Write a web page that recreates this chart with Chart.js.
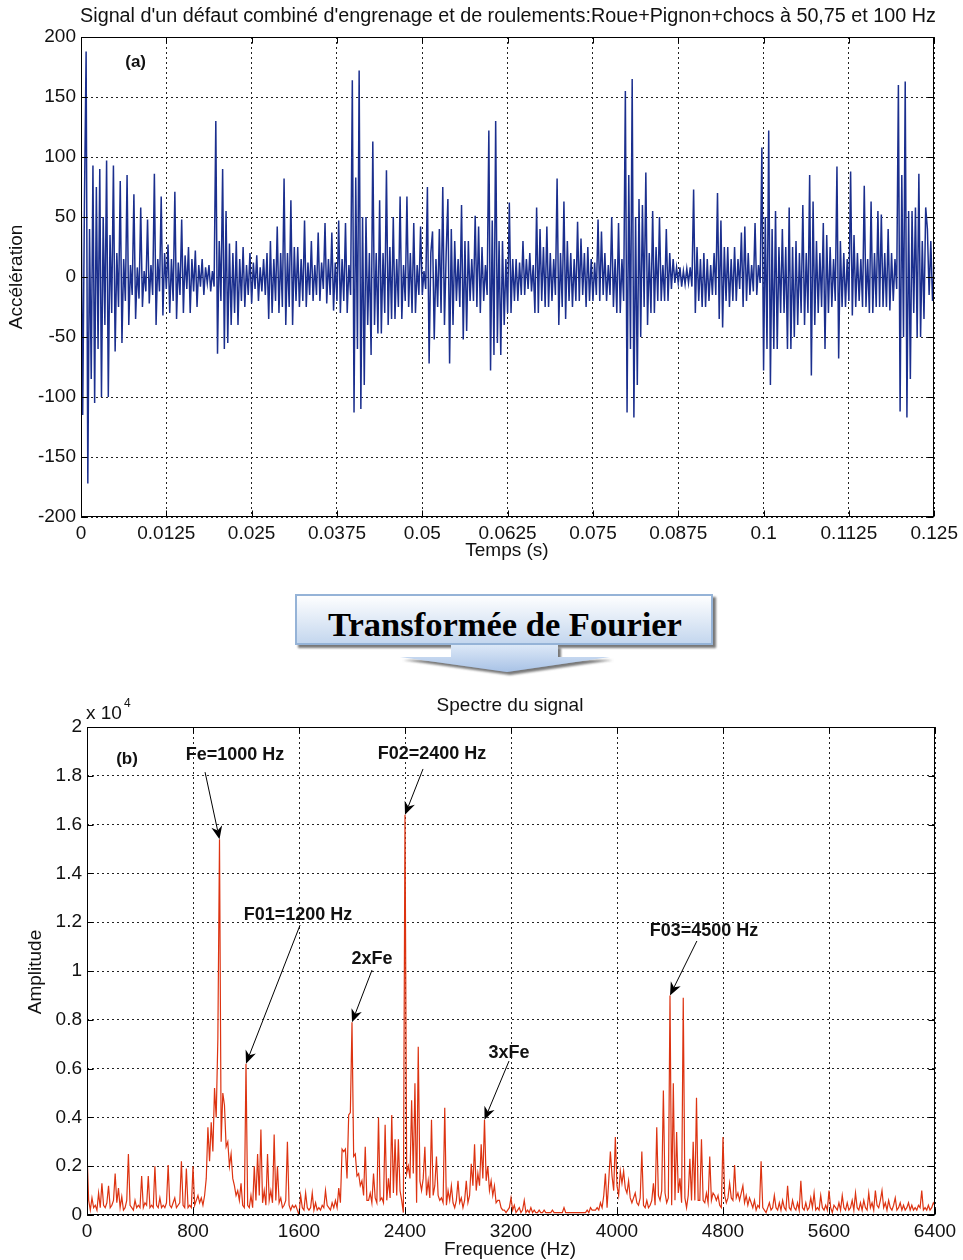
<!DOCTYPE html>
<html>
<head>
<meta charset="utf-8">
<script src="https://cdn.jsdelivr.net/npm/chart.js@4.4.1/dist/chart.umd.min.js"></script>
<style>
  html, body { margin: 0; padding: 0; background: #fff; }
  body { width: 963px; height: 1260px; position: relative; overflow: hidden; }
  #sig { position: absolute; left: 0; top: 0; }
  #banner { position: absolute; left: 0; top: 580px; }
  #spec { position: absolute; left: 0; top: 690px; }
</style>
</head>
<body>
<canvas id="sig" width="963" height="575"></canvas>

<svg id="banner" width="963" height="100" viewBox="0 0 963 100">
  <defs>
    <linearGradient id="boxFill" x1="0" y1="0" x2="0" y2="1">
      <stop offset="0" stop-color="#ffffff"/>
      <stop offset="1" stop-color="#c3d6ee"/>
    </linearGradient>
    <linearGradient id="arrowFill" x1="0" y1="0" x2="0" y2="1">
      <stop offset="0" stop-color="#dce8f7"/>
      <stop offset="1" stop-color="#a8c2e6"/>
    </linearGradient>
    <filter id="shade" x="-5%" y="-20%" width="115%" height="170%">
      <feDropShadow dx="3" dy="3" stdDeviation="1.2" flood-color="#6a6a6a" flood-opacity="0.9"/>
    </filter>
  </defs>
  <rect x="296" y="15" width="416" height="49" fill="url(#boxFill)" stroke="#95b3d7" stroke-width="2" filter="url(#shade)"/>
  <polygon points="451,65 558,65 558,77 610,77 507,92 400,77 451,77" fill="url(#arrowFill)" filter="url(#shade)"/>
  <text x="505" y="56" text-anchor="middle" font-family="'Liberation Serif', 'Times New Roman', serif" font-weight="bold" font-size="34.5" fill="#000">Transformée de Fourier</text>
</svg>

<canvas id="spec" width="963" height="570"></canvas>

<script>
// ---- Time signal: acceleration sampled every 0.25 ms over 0.125 s ----
const sampleStep = 0.00025;
const accel = [
  90,-115,60,188,   -172,40,-85,93,   -105,75,-60,90,   -100,50,-40,97,   -100,35,-30,93,
  -62,20,-25,80,    -55,15,-20,85,    -40,10,-15,69,    -35,8,-18,58,     -25,5,-12,48,
  -22,10,-15,86,    -40,15,-12,67,    -32,20,-10,27,    -30,15,-20,71,    -35,12,-15,48,
  -30,18,-10,25,    -30,15,-12,22,    -25,10,-8,15,     -15,8,-5,10,      -12,5,-8,130,
  -64,30,-20,90,    -60,55,-55,28,    -40,20,-30,30,    -40,15,-20,25,    -25,10,-15,20,
  -22,12,-10,18,    -20,8,-12,15,     -15,20,-35,30,    -30,15,-20,42,    -30,20,-25,82,
  -40,20,-25,64,    -40,25,-20,25,    -25,15,-20,47,    -25,12,-15,30,    -20,10,-15,37,
  -20,12,-10,45,    -22,15,-15,37,    -28,12,-20,47,    -30,15,-20,45,    -30,10,-15,164,
  -113,83,-60,172,  -110,50,-90,50,   -40,20,-65,113,   -40,20,-47,64,    -47,20,-30,89,
  -40,25,-35,50,    -35,15,-25,67,    -35,10,-20,67,    -25,20,-30,45,    -30,10,-15,42,
  -15,5,-10,75,     -72,20,38,-52,    15,-25,40,-30,    75,-40,20,65,     -72,40,-40,30,
  -20,15,-25,60,    -52,30,-45,30,    -20,15,-20,51,    -25,42,-30,25,    -20,10,-15,122,
  -78,47,-65,130,   -55,30,-65,30,    -40,15,-30,62,    -30,15,-20,15,    -20,12,-15,30,
  -15,15,-10,20,    -12,10,-30,58,    -30,40,-20,25,    -25,42,-25,20,    -20,15,-15,82,
  -40,20,-25,63,    -35,30,-20,20,    -25,15,-20,46,    -20,32,-15,20,    -25,25,-20,15,
  -20,12,-15,48,    -20,38,-15,20,    -20,10,-15,50,    -25,15,-30,45,    -30,15,-20,155,
  -113,85,-60,165,  -117,50,-90,65,   -50,60,-25,87,    -40,20,-30,55,    -30,25,-20,50,
  -20,10,-20,40,    -20,20,-10,15,    -5,8,-5,8,        -8,5,-6,7,        -5,8,-8,73,
  -30,25,-20,15,    -25,20,-25,15,    -20,10,-15,20,    -15,70,-35,47,    -42,25,-20,25,
  -25,15,-20,25,    -20,15,-10,37,    -25,42,-20,20,    -15,10,-12,45,    -15,10,-5,108,
  -78,50,-60,122,   -90,40,-60,55,    -60,25,-30,40,    -30,25,-60,58,    -60,25,-50,30,
  -40,20,-30,60,    -40,20,-30,85,    -82,63,-40,30,    -30,20,-25,45,    -60,35,-30,25,
  -25,15,-20,92,    -68,30,-25,20,    -25,15,-20,88,    -32,35,-25,20,    -20,15,-25,76,
  -25,15,-30,63,    -30,20,-25,55,    -25,52,-25,20,    -25,40,-28,20,    -20,15,-10,160,
  -112,85,-50,163,  -117,55,-85,55,   -30,58,-50,86,    -50,30,-35,58,    40,-15,30,-20,
  10
];

// ---- Spectrum: amplitude every 12.5 Hz from 0 to 6400 Hz (one row = 200 Hz) ----
const freqStep = 12.5;
const amplitude = [
  2600,600,200,700,300,400,200,900,300,1300,400,300,500,1200,300,400,          // 0
  600,1700,500,1100,300,750,200,300,600,2500,400,300,200,600,300,400,          // 200
  300,1600,300,500,400,1600,300,400,300,2000,400,300,700,300,400,300,          // 400
  500,2050,400,300,500,700,300,400,500,2200,400,300,1900,300,400,300,          // 600
  2000,400,600,800,500,700,400,800,1500,3600,2200,3800,2600,5200,4000,7200,    // 800
  15400,3000,5000,4500,2800,3000,2000,2500,1500,1200,800,1000,600,1300,400,300, // 1000
  6200,400,300,800,300,2000,600,2500,800,3500,500,1000,400,2500,600,1000,      // 1200
  500,3300,600,2000,500,700,300,400,600,3000,400,200,400,300,400,200,          // 1400
  0,800,300,200,900,300,200,300,900,200,500,200,300,200,400,300,               // 1600
  1000,400,300,200,500,300,600,300,1100,500,2700,2600,2700,1500,4100,4200,     // 1800
  7900,2400,2500,1600,1700,1200,1400,800,2800,600,600,900,500,1700,700,500,    // 2000
  4000,600,700,500,3700,600,1500,700,4100,900,3100,800,3100,1000,600,100,      // 2200
  16400,1700,2000,1500,4700,1700,5400,500,6900,1400,1000,1500,2800,800,1400,700, // 2400
  3900,800,1200,2400,800,600,700,500,4400,400,1000,600,1200,500,300,600,       // 2600
  1400,500,700,300,600,1400,500,800,2100,1200,2900,1000,1700,1200,2900,1500,   // 2800
  3900,1400,2000,1000,1400,800,1200,500,600,600,300,200,200,100,200,300,       // 3000
  700,200,400,100,200,300,100,200,600,100,200,100,300,100,200,100,             // 3200
  100,200,100,100,200,100,100,100,100,200,100,100,100,100,100,100,             // 3400
  300,100,100,100,100,100,100,100,100,100,100,100,100,100,200,100,             // 3600
  300,200,200,200,300,200,500,300,800,1700,300,1400,2600,1600,1000,3200,       // 3800
  1200,800,1800,1300,1800,1100,900,1400,700,500,700,900,500,400,700,2600,      // 4000
  400,300,600,300,400,600,1300,400,3600,800,600,1000,5100,900,500,700,         // 4200
  9000,400,5400,600,3400,900,1500,500,8900,700,300,800,2300,600,3000,600,      // 4400
  4800,600,600,3100,600,500,900,500,2400,600,900,800,600,800,400,300,          // 4600
  3200,800,500,700,1300,700,600,2050,700,900,600,900,1200,500,800,400,         // 4800
  700,500,300,600,200,400,300,2200,300,200,100,300,500,200,300,800,            // 5000
  300,200,500,200,600,300,200,1200,300,200,600,300,200,500,200,1400,           // 5200
  300,200,500,200,300,700,300,900,200,300,200,800,300,200,400,200,             // 5400
  1000,300,100,400,300,200,500,200,800,300,200,500,200,300,600,200,            // 5600
  900,300,200,500,200,600,300,200,900,300,500,200,1000,400,300,600,            // 5800
  1000,300,500,200,600,300,200,400,700,200,300,500,200,400,200,300,            // 6000
  500,200,400,200,300,200,400,300,1000,200,300,200,400,200,300,500,            // 6200
  400                                                                          // 6400
];

// ---- Tick values and labels ----
const timeTicks = [0, 0.0125, 0.025, 0.0375, 0.05, 0.0625, 0.075, 0.0875, 0.1, 0.1125, 0.125];
const timeTickLabels = ['0','0.0125','0.025','0.0375','0.05','0.0625','0.075','0.0875','0.1','0.1125','0.125'];
const accelTicks = [-200, -150, -100, -50, 0, 50, 100, 150, 200];
const accelTickLabels = ['-200','-150','-100','-50','0','50','100','150','200'];
const freqTicks = [0, 800, 1600, 2400, 3200, 4000, 4800, 5600, 6400];
const freqTickLabels = ['0','800','1600','2400','3200','4000','4800','5600','6400'];
const ampTicks = [0, 2000, 4000, 6000, 8000, 10000, 12000, 14000, 16000, 18000, 20000];
const ampTickLabels = ['0','0.2','0.4','0.6','0.8','1','1.2','1.4','1.6','1.8','2'];

// ---- Peak annotations on the spectrum (label centre, arrow start, peak frequency) ----
const peakNotes = [
  { text: 'Fe=1000 Hz',  at: [1117, 18850], from: [891, 18150],  peak: 1000 },
  { text: 'F02=2400 Hz', at: [2604, 18890], from: [2536, 18280], peak: 2400 },
  { text: 'F01=1200 Hz', at: [1592, 12300], from: [1608, 11880], peak: 1200 },
  { text: '2xFe',        at: [2151, 10490], from: [2151, 10040], peak: 2000 },
  { text: '3xFe',        at: [3185, 6640],  from: [3185, 6310],  peak: 3000 },
  { text: 'F03=4500 Hz', at: [4656, 11640], from: [4603, 11230], peak: 4400 }
];

const FONT = "'Liberation Sans', Arial, Helvetica, sans-serif";
const INK = '#111';

function fixedTicks(values) {
  return function (scale) { scale.ticks = values.map(v => ({ value: v })); };
}

function axisOptions(min, max, values, labels, fitFn) {
  return {
    type: 'linear', min: min, max: max,
    afterBuildTicks: fixedTicks(values),
    afterFit: fitFn,
    ticks: {
      callback: (v, i) => labels[i],
      font: { family: FONT, size: 19 }, color: INK,
      padding: 5, maxRotation: 0, autoSkip: false
    },
    grid: { color: '#222', lineWidth: 1, drawTicks: false },
    border: { display: false, dash: [2, 3] }
  };
}

// Box around the plotting area with short inward tick marks on every side
const framePlugin = {
  id: 'frame',
  afterDraw(chart) {
    const { ctx, chartArea: a, scales } = chart;
    const L = Math.round(a.left) + 0.5, T = Math.round(a.top) + 0.5;
    const R = Math.round(a.right) - 0.5, B = Math.round(a.bottom) - 0.5;
    ctx.save();
    ctx.strokeStyle = '#000';
    ctx.lineWidth = 1;
    ctx.beginPath();
    scales.x.ticks.forEach(t => {
      const x = Math.round(scales.x.getPixelForValue(t.value)) + 0.5;
      ctx.moveTo(x, B); ctx.lineTo(x, B - 6);
      ctx.moveTo(x, T); ctx.lineTo(x, T + 6);
    });
    scales.y.ticks.forEach(t => {
      const y = Math.round(scales.y.getPixelForValue(t.value)) + 0.5;
      ctx.moveTo(L, y); ctx.lineTo(L + 6, y);
      ctx.moveTo(R, y); ctx.lineTo(R - 6, y);
    });
    ctx.stroke();
    ctx.strokeRect(L, T, R - L, B - T);
    ctx.restore();
  }
};

function text(ctx, s, x, y, font, align, base) {
  ctx.font = font;
  ctx.textAlign = align || 'center';
  ctx.textBaseline = base || 'middle';
  ctx.fillStyle = INK;
  ctx.fillText(s, x, y);
}

function vtext(ctx, s, x, y, font) {
  ctx.save();
  ctx.translate(x, y);
  ctx.rotate(-Math.PI / 2);
  text(ctx, s, 0, 0, font);
  ctx.restore();
}

function arrow(ctx, x0, y0, x1, y1) {
  const dx = x1 - x0, dy = y1 - y0, len = Math.hypot(dx, dy);
  const ux = dx / len, uy = dy / len;
  const L = 13, W = 5.5, N = 4;
  const bx = x1 - ux * (L - N), by = y1 - uy * (L - N);
  ctx.save();
  ctx.strokeStyle = '#000'; ctx.fillStyle = '#000'; ctx.lineWidth = 1;
  ctx.beginPath(); ctx.moveTo(x0, y0); ctx.lineTo(bx, by); ctx.stroke();
  ctx.beginPath();
  ctx.moveTo(x1, y1);
  ctx.lineTo(x1 - ux * L - uy * W, y1 - uy * L + ux * W);
  ctx.lineTo(bx, by);
  ctx.lineTo(x1 - ux * L + uy * W, y1 - uy * L - ux * W);
  ctx.closePath(); ctx.fill();
  ctx.restore();
}

// ---- (a) time signal ----
const sigLabels = {
  id: 'sigLabels',
  afterDraw(chart) {
    const { ctx, scales } = chart;
    ctx.save();
    const title = "Signal d'un défaut combiné d'engrenage et de roulements:Roue+Pignon+chocs à 50,75 et 100 Hz";
    ctx.font = '19px ' + FONT;
    const size = Math.min(20, 19 * 856 / ctx.measureText(title).width);
    text(ctx, title, 508, 17, size.toFixed(2) + 'px ' + FONT);
    vtext(ctx, 'Accélération', 17, 277, '19px ' + FONT);
    text(ctx, 'Temps (s)', 507, 551, '19px ' + FONT);
    text(ctx, '(a)', scales.x.getPixelForValue(0.008), scales.y.getPixelForValue(179), 'bold 17px ' + FONT);
    ctx.restore();
  }
};

new Chart(document.getElementById('sig'), {
  type: 'line',
  data: {
    datasets: [{
      data: accel.map((v, i) => ({ x: i * sampleStep, y: v })),
      borderColor: '#1b2f8e', borderWidth: 1.5,
      pointRadius: 0, tension: 0, fill: false
    }]
  },
  options: {
    responsive: false, animation: false, devicePixelRatio: 1, events: [],
    layout: { padding: { top: 37, right: 27, bottom: 18, left: 0 } },
    plugins: { legend: { display: false }, tooltip: { enabled: false } },
    scales: {
      x: axisOptions(0, 0.125, timeTicks, timeTickLabels, s => { s.height = 40; }),
      y: axisOptions(-200, 200, accelTicks, accelTickLabels, s => { s.width = 81; })
    }
  },
  plugins: [framePlugin, sigLabels]
});

// ---- (b) spectrum ----
const specLabels = {
  id: 'specLabels',
  afterDraw(chart) {
    const { ctx, scales } = chart;
    const px = f => scales.x.getPixelForValue(f);
    const py = a => scales.y.getPixelForValue(a);
    ctx.save();
    text(ctx, 'Spectre du signal', 510, 16, '19px ' + FONT);
    text(ctx, 'x 10', 86, 29, '19px ' + FONT, 'left', 'alphabetic');
    text(ctx, '4', 124, 17, '12px ' + FONT, 'left', 'alphabetic');
    vtext(ctx, 'Amplitude', 36, 282, '19px ' + FONT);
    text(ctx, 'Frequence (Hz)', 510, 560, '19px ' + FONT);
    text(ctx, '(b)', px(302), py(18690), 'bold 17px ' + FONT);
    peakNotes.forEach(n => {
      text(ctx, n.text, px(n.at[0]), py(n.at[1]), 'bold 18px ' + FONT);
      const a = amplitude[Math.round(n.peak / freqStep)];
      arrow(ctx, px(n.from[0]), py(n.from[1]), px(n.peak), py(a));
    });
    ctx.restore();
  }
};

new Chart(document.getElementById('spec'), {
  type: 'line',
  data: {
    datasets: [{
      data: amplitude.map((v, i) => ({ x: i * freqStep, y: v })),
      borderColor: '#dd3311', borderWidth: 1.2,
      pointRadius: 0, tension: 0, fill: false
    }]
  },
  options: {
    responsive: false, animation: false, devicePixelRatio: 1, events: [],
    layout: { padding: { top: 37, right: 28, bottom: 5, left: 0 } },
    plugins: { legend: { display: false }, tooltip: { enabled: false } },
    scales: {
      x: axisOptions(0, 6400, freqTicks, freqTickLabels, s => { s.height = 40; }),
      y: axisOptions(0, 20000, ampTicks, ampTickLabels, s => { s.width = 87; })
    }
  },
  plugins: [framePlugin, specLabels]
});
</script>
</body>
</html>
